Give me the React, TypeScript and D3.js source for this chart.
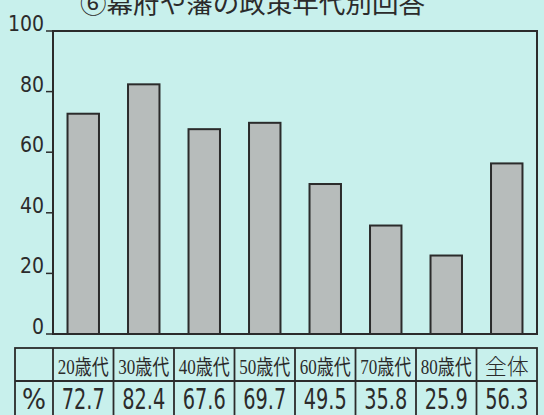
import React from 'react';
import * as d3 from 'd3';

const title = '⑥幕府や藩の政策年代別回答';
const categories = ['20歳代', '30歳代', '40歳代', '50歳代', '60歳代', '70歳代', '80歳代', '全体'];
const values = [72.7, 82.4, 67.6, 69.7, 49.5, 35.8, 25.9, 56.3];
const yTicks = [0, 20, 40, 60, 80, 100];
const rowLabel = '%';

const W = 544;
const H = 415;
const plot = { left: 53, right: 537, top: 31, bottom: 334 };
const table = { left: 15, top: 348, mid: 381, bottom: 418 };

const bg = '#c8f0ec';
const ink = '#2b2b2b';
const narrow = '"Liberation Sans Narrow", "DejaVu Sans Condensed", "Liberation Sans", sans-serif';
const cjk = '"Liberation Serif", "Noto Sans CJK JP", serif';

const App: React.FC = () => {
  const x = d3.scaleBand<string>()
    .domain(categories)
    .range([plot.left, plot.right])
    .paddingInner(0.48)
    .paddingOuter(0.24);

  const col = d3.scaleBand<string>()
    .domain(categories)
    .range([plot.left, plot.right]);

  const y = d3.scaleLinear()
    .domain([0, 100])
    .range([plot.bottom, plot.top]);

  return (
    <div style={{ position: 'absolute', left: 0, top: 0 }}>
      <svg width={W} height={H} style={{ display: 'block' }}>
        <rect x={0} y={0} width={W} height={H} fill={bg} />

        {/* title is cut off at the top in the source scan */}
        <text x={80} y={13} fontSize={26} fill={ink}
          fontFamily='"Noto Sans CJK JP", sans-serif' textLength={345} lengthAdjust="spacingAndGlyphs">
          {title}
        </text>

        {/* bars */}
        {categories.map((c, i) => (
          <rect key={c}
            x={x(c)}
            y={y(values[i])}
            width={x.bandwidth()}
            height={y(0) - y(values[i])}
            fill="#b7bcbb"
            stroke={ink}
            strokeWidth={2} />
        ))}

        {/* frame */}
        <rect x={plot.left} y={plot.top} width={plot.right - plot.left} height={plot.bottom - plot.top}
          fill="none" stroke={ink} strokeWidth={2} />

        {/* y axis */}
        {yTicks.map(t => (
          <g key={t}>
            <line x1={46} x2={plot.left} y1={y(t)} y2={y(t)} stroke={ink} strokeWidth={1.5} />
            <text x={44} y={y(t)} textAnchor="end" fontSize={21} fill={ink} fontFamily={narrow}>
              {t}
            </text>
          </g>
        ))}

        {/* table */}
        <g stroke={ink} strokeWidth={1.8} fill="none">
          <rect x={table.left} y={table.top} width={plot.right - table.left} height={table.bottom - table.top} />
          <line x1={table.left} x2={plot.right} y1={table.mid} y2={table.mid} />
          <line x1={plot.left} x2={plot.left} y1={table.top} y2={table.bottom} />
          {categories.slice(1).map(c => (
            <line key={c} x1={col(c)} x2={col(c)} y1={table.top} y2={table.bottom} />
          ))}
        </g>

        {categories.map((c, i) => {
          const cx = (col(c) as number) + col.bandwidth() / 2;
          const last = i === categories.length - 1;
          return (
            <g key={c}>
              {last ? (
                <text x={cx} y={374} textAnchor="middle" fontSize={22} fill={ink}
                  fontFamily='"Noto Sans CJK JP", sans-serif' fontWeight={300}>
                  {c}
                </text>
              ) : (
                <text x={cx} y={374} textAnchor="middle" fontSize={21} fill={ink}
                  fontFamily={cjk} textLength={51} lengthAdjust="spacingAndGlyphs">
                  {c}
                </text>
              )}
              <text x={cx} y={409} textAnchor="middle" fontSize={29} fill={ink}
                fontFamily={narrow} textLength={43} lengthAdjust="spacingAndGlyphs">
                {values[i].toFixed(1)}
              </text>
            </g>
          );
        })}

        <text x={(table.left + plot.left) / 2} y={409} textAnchor="middle" fontSize={28} fill={ink}
          fontFamily={narrow}>
          {rowLabel}
        </text>
      </svg>
    </div>
  );
};

export default App;
